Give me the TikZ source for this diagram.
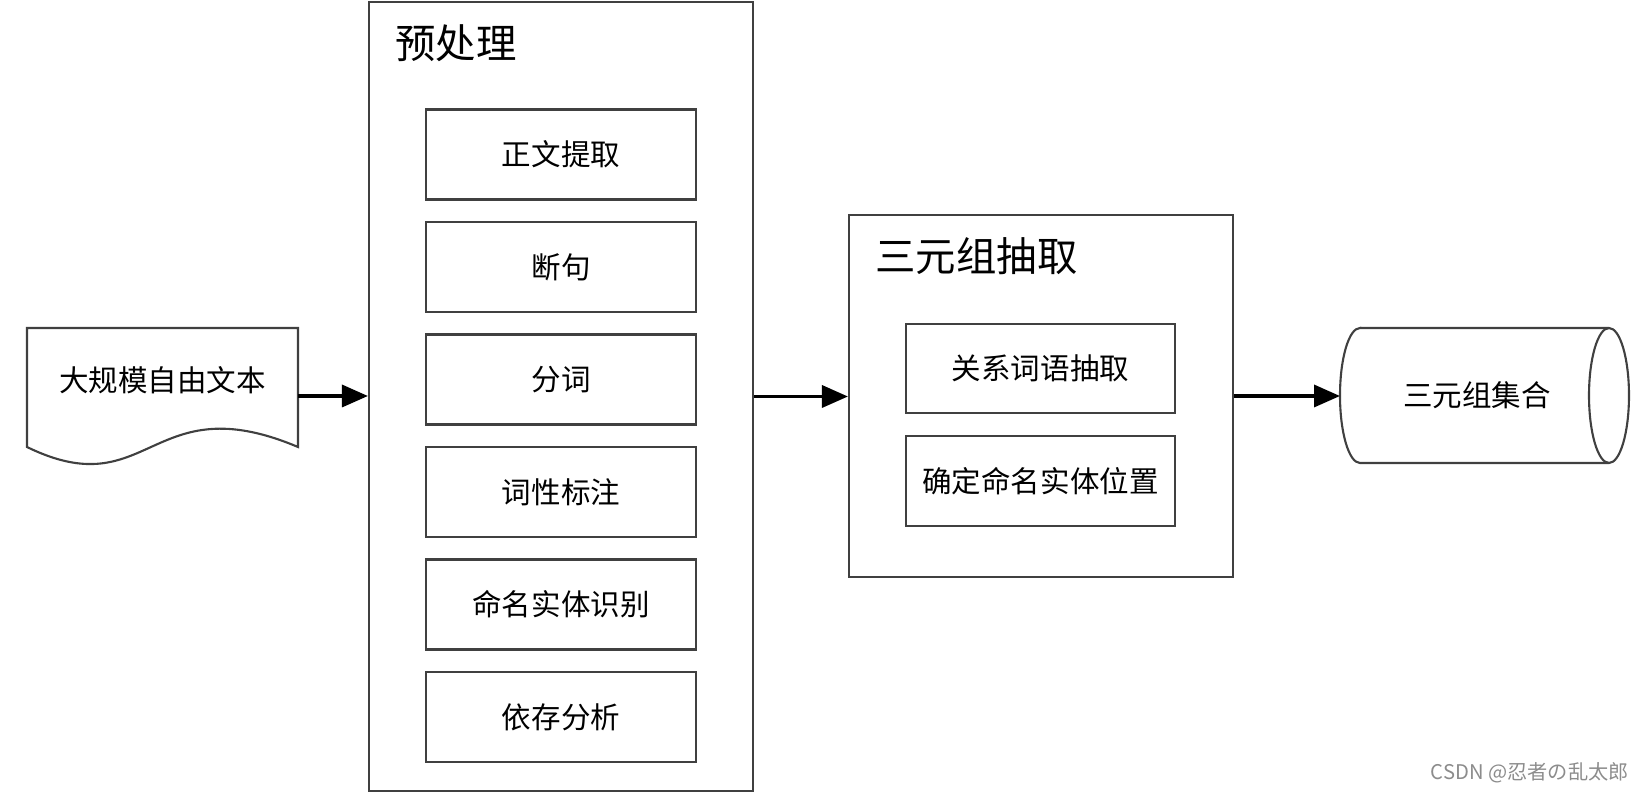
\documentclass[tikz,border=0pt]{standalone}
\usepackage{fontspec}
\setmainfont{Noto Sans CJK SC}
\usetikzlibrary{arrows.meta}

\begin{document}
\begin{tikzpicture}[
        frame/.style={draw=black!75, line width=1.2pt},
        task/.style={frame, minimum width=5.4cm, minimum height=1.8cm, font=\fontsize{16.8}{20}\selectfont},
        title/.style={anchor=west, inner sep=0pt, font=\fontsize{23}{28}\selectfont},
        flow/.style={-{Triangle[length=0.52cm, width=0.44cm]}, line width=2pt}
    ]
            \useasboundingbox (0,0) rectangle (32.98,-15.86);
            % input text
            \draw [frame] (0.54,-8.94) -- (0.54,-6.56) -- (5.96,-6.56) -- (5.96,-8.94) .. controls (3.0,-7.69) and (3.0,-10.14) .. cycle;
            \node [font=\fontsize{16.8}{20}\selectfont] (doc) at (3.25,-7.6) {大规模自由文本};
            \coordinate (docR) at (5.96,-7.92);
            % preprocessing
            \node [frame, minimum width=7.68cm, minimum height=15.78cm] (pre) at (11.22,-7.93) {};
            \node [title] (pretitle) at (7.9,-0.86) {预处理};
            \node [task] (body) at (11.22,-3.09) {正文提取};
            \node [task] (sent) at (11.22,-5.34) {断句};
            \node [task] (seg) at (11.22,-7.59) {分词};
            \node [task] (pos) at (11.22,-9.84) {词性标注};
            \node [task] (ner) at (11.22,-12.09) {命名实体识别};
            \node [task] (dep) at (11.22,-14.34) {依存分析};
            % triple extraction
            \node [frame, minimum width=7.68cm, minimum height=7.24cm] (triple) at (20.82,-7.92) {};
            \node [title] (tripletitle) at (17.5,-5.13) {三元组抽取};
            \node [task, minimum width=5.38cm, minimum height=1.78cm] (rel) at (20.81,-7.37) {关系词语抽取};
            \node [task, minimum width=5.38cm] (loc) at (20.81,-9.62) {确定命名实体位置};
            % triple store
            \draw [frame] (27.2,-6.56) -- (32.18,-6.56) arc [start angle=90, end angle=-90, x radius=0.4, y radius=1.35] -- (27.2,-9.26) arc [start angle=270, end angle=90, x radius=0.4, y radius=1.35] -- cycle;
            \draw [frame] (32.18,-6.56) arc [start angle=90, end angle=270, x radius=0.4, y radius=1.35];
            \node [font=\fontsize{16.8}{20}\selectfont] (store) at (29.54,-7.9) {三元组集合};
            \coordinate (storeL) at (26.8,-7.92);
            % arrows
            \draw [flow] (docR) -- (docR -| pre.west);
            \draw [flow] (pre.east) -- (pre.east -| triple.west);
            \draw [flow] (triple.east) -- (storeL);
            \node [anchor=east, text=black!45, font=\fontsize{11.5}{14}\selectfont] (mark) at (32.7,-15.46) {CSDN @忍者の乱太郎};
        \end{tikzpicture}
\end{document}
